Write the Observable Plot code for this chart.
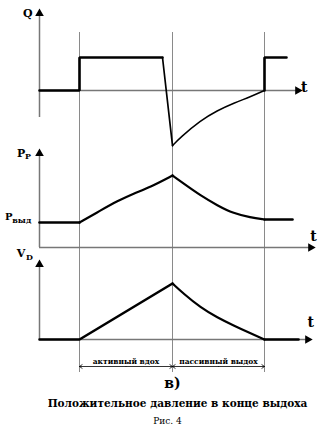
<!DOCTYPE html>
<html>
<head>
<meta charset="utf-8">
<script src="https://cdn.jsdelivr.net/npm/d3@7"></script>
<script src="https://cdn.jsdelivr.net/npm/@observablehq/plot@0.6"></script>
<style>
html,body{margin:0;padding:0;background:#fff;overflow:hidden;}
#chart{width:320px;height:428px;}
</style>
</head>
<body>
<div id="chart"></div>
<script>
// ---- phase boundaries (time units) ----
const phaseTimes = [1, 3.325, 5.625];            // start of inhale, end of inhale, end of exhale
const phaseLabels = ["активный вдох", "пассивный выдох"];
const caption = "Положительное давление в конце выдоха";
const figLetter = "в)";
const figNumber = "Рис. 4";

// ---- Q (flow) ----
const qTimeA = [0, 1, 1, 3.075];
const qValA  = [0, 0, 1, 1];
const qTimeB = [3.075, 3.325, 3.525, 4.025, 4.44, 4.86, 5.275, 5.625];
const qValB  = [1, -1.67, -1.42, -0.91, -0.61, -0.38, -0.19, 0];
const qTimeC = [5.625, 5.625, 6.175];
const qValC  = [0, 1, 1];

// ---- P_P (pressure) ----
const pTimeRise  = [1, 1.525, 1.95, 2.35, 2.775, 3.325];
const pValRise   = [5, 7.4, 9.3, 10.8, 12.1, 14.4];
const pTimeDecay = [3.325, 3.6, 4.025, 4.45, 4.85, 5.275, 5.625];
const pValDecay  = [14.4, 12.8, 10.4, 8.4, 6.8, 6.0, 5.6];
const pTimeFlat  = [[0, 1], [5.625, 6.325]];
const pValFlat   = [[5, 5], [5.6, 5.6]];

// ---- V_D (volume) ----
const vTimeRise  = [0, 1, 3.325];
const vValRise   = [0, 0, 1];
const vTimeDecay = [3.325, 3.6, 4.025, 4.45, 4.85, 5.275, 5.625, 6.475];
const vValDecay  = [1, 0.82, 0.57, 0.39, 0.25, 0.11, 0, 0];

// ---- layout of the three stacked panels (pixel base, px per unit, axis extents) ----
const panels = {
  Q: {base: 90,  k: 33, top: 10,  bottom: 117, tEnd: 6.525, tLabel: [6.62, 87]},
  P: {base: 247, k: 5,  top: 150, bottom: 247, tEnd: 6.85,  tLabel: [6.85, 236]},
  V: {base: 339, k: 56, top: 261, bottom: 339, tEnd: 6.775, tLabel: [6.78, 322]}
};
const Y = (p, v) => panels[p].base - panels[p].k * v;
const zip = (ts, vs, p, seg) => ts.map((t, i) => ({t, y: Y(p, vs[i]), seg}));

const thick = [
  ...zip(qTimeA, qValA, "Q", "qa"),
  ...zip(qTimeC, qValC, "Q", "qc"),
  ...zip(pTimeFlat[0], pValFlat[0], "P", "pf0"),
  ...zip(pTimeFlat[1], pValFlat[1], "P", "pf1"),
  ...zip(vTimeRise, vValRise, "V", "vr")
];
const curves = [
  ...zip(pTimeRise, pValRise, "P", "pr"),
  ...zip(pTimeDecay, pValDecay, "P", "pd"),
  ...zip(vTimeDecay.slice(0, 7), vValDecay.slice(0, 7), "V", "vd")
];
const thickTail = zip(vTimeDecay.slice(6), vValDecay.slice(6), "V", "vt");
const thin = zip(qTimeB.slice(0, 2), qValB.slice(0, 2), "Q", "qdrop");
const thinCurve = zip(qTimeB.slice(1), qValB.slice(1), "Q", "qrec");

const axesV = Object.values(panels).map(p => ({t: 0, y1: p.bottom, y2: p.top + 4}));
const axesH = Object.values(panels).map(p => ({t1: 0, t2: p.tEnd - 0.1, y: p.base}));
const headsUp = Object.values(panels).map(p => ({t: 0, y: p.top + 3}));
const headsRight = Object.values(panels).map(p => ({t: p.tEnd - 0.07, y: p.base}));

const guideTop = 32, guideBottom = 372, dimY = 366;
const dims = [
  {t1: (phaseTimes[0] + phaseTimes[1]) / 2, t2: phaseTimes[0]},
  {t1: (phaseTimes[0] + phaseTimes[1]) / 2, t2: phaseTimes[1]},
  {t1: (phaseTimes[1] + phaseTimes[2]) / 2, t2: phaseTimes[1]},
  {t1: (phaseTimes[1] + phaseTimes[2]) / 2, t2: phaseTimes[2]}
];
const phaseText = [
  {t: (phaseTimes[0] + phaseTimes[1]) / 2, text: phaseLabels[0]},
  {t: (phaseTimes[1] + phaseTimes[2]) / 2, text: phaseLabels[1]}
];

const serif = "'DejaVu Serif', 'Liberation Serif', serif";
const mainLabels = [
  {t: -0.29, y: 12.5, text: "Q", size: 11},
  {t: -0.46, y: 152.5, text: "P", size: 11},
  {t: -0.77, y: 216.5, text: "P", size: 10},
  {t: -0.46, y: 253, text: "V", size: 11}
];
const subLabels = [
  {t: -0.36, y: 156, text: "P"},
  {t: -0.68, y: 220, text: "выд"},
  {t: -0.34, y: 256.5, text: "D"}
];
const tLabels = Object.values(panels).map(p => ({t: p.tLabel[0], y: p.tLabel[1], text: "t"}));

const chart = Plot.plot({
  width: 320,
  height: 428,
  margin: 0,
  x: {domain: [0, 7], range: [39, 319]},
  y: {domain: [0, 428], range: [0, 428]},
  axis: null,
  style: {background: "#fff"},
  marks: [
    // guide lines
    Plot.ruleX(phaseTimes, {y1: guideTop, y2: guideBottom, stroke: "#8a8a8a", strokeWidth: 1}),
    // axes
    Plot.ruleX(axesV, {x: "t", y1: "y1", y2: "y2", stroke: "#777", strokeWidth: 1.5}),
    Plot.ruleY(axesH, {x1: "t1", x2: "t2", y: "y", stroke: "#777", strokeWidth: 1.5}),
    Plot.dot(headsUp, {x: "t", y: "y", symbol: "triangle", r: 3.2, fill: "#000", stroke: "none"}),
    Plot.dot(headsRight, {x: "t", y: "y", symbol: "triangle", r: 3.2, fill: "#000", stroke: "none", rotate: 90}),
    // curves
    Plot.line(thick, {x: "t", y: "y", z: "seg", stroke: "#000", strokeWidth: 2.6, strokeLinejoin: "miter"}),
    Plot.line(thickTail, {x: "t", y: "y", z: "seg", stroke: "#000", strokeWidth: 2.6}),
    Plot.line(curves, {x: "t", y: "y", z: "seg", stroke: "#000", strokeWidth: 2.2, curve: "basis"}),
    Plot.line(thin, {x: "t", y: "y", z: "seg", stroke: "#000", strokeWidth: 1.7}),
    Plot.line(thinCurve, {x: "t", y: "y", z: "seg", stroke: "#000", strokeWidth: 1.5, curve: "basis"}),
    // dimension arrows
    Plot.arrow(dims, {x1: "t1", x2: "t2", y1: dimY, y2: dimY, stroke: "#000", strokeWidth: 0.8, headLength: 6, headAngle: 70}),
    Plot.text(phaseText, {x: "t", y: dimY - 5, text: "text", fontSize: 7.5, fontWeight: "bold", fontFamily: serif, fill: "#000"}),
    // labels
    Plot.text(mainLabels, {x: "t", y: "y", text: "text", fontSize: d => d.size, fontWeight: "bold", fontFamily: serif, fill: "#000"}),
    Plot.text(subLabels, {x: "t", y: "y", text: "text", fontSize: 8, fontWeight: "bold", fontFamily: serif, fill: "#000", textAnchor: "start"}),
    Plot.text(tLabels, {x: "t", y: "y", text: "text", fontSize: 14, fontWeight: "bold", fontFamily: serif, fill: "#000"}),
    Plot.text([figLetter], {x: phaseTimes[1], y: 383, text: d => d, fontSize: 14, fontWeight: "bold", fontFamily: serif, fill: "#000"}),
    Plot.text([caption], {x: 3.45, y: 403, text: d => d, fontSize: 10.5, fontWeight: "bold", fontFamily: serif, fill: "#000"}),
    Plot.text([figNumber], {x: 3.2, y: 421, text: d => d, fontSize: 9, fontFamily: serif, fill: "#000"})
  ]
});
document.getElementById("chart").appendChild(chart);
</script>
</body>
</html>
